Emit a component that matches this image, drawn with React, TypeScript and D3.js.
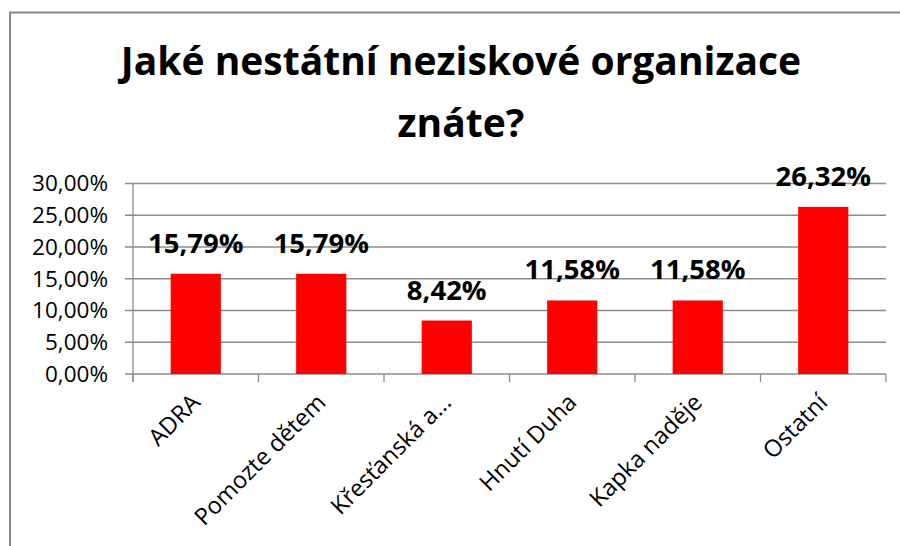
import React from "react";
import * as d3 from "d3";

const categories = ["ADRA", "Pomozte dětem", "Křesťanská a...", "Hnutí Duha", "Kapka naděje", "Ostatní"];
const values = [15.79, 15.79, 8.42, 11.58, 11.58, 26.32];
const yTicks = [0, 5, 10, 15, 20, 25, 30];
const titleLines = ["Jaké nestátní neziskové organizace", "znáte?"];

const W = 900;
const H = 546;
const left = 133;
const right = 886;
const top = 183.5;
const bottom = 374;
const font = "'Open Sans', Lato, sans-serif";
const grid = "#8c8c8c";

const fmt = (v: number) => v.toFixed(2).replace(".", ",") + "%";

export default function App() {
  const x = d3.scaleBand<string>().domain(categories).range([left, right]).paddingInner(0.6).paddingOuter(0.3);
  const xb = d3.scaleBand<string>().domain(categories).range([left, right]);
  const y = d3.scaleLinear().domain([0, 30]).range([bottom, top]);

  return (
    <svg width={W} height={H} style={{ position: "absolute", left: 0, top: 0, background: "#fff" }}>
      <rect x={10} y={12.5} width={W + 20} height={H + 20} fill="#fff" stroke="#888" strokeWidth={2} />
      {titleLines.map((t, i) => (
        <text key={i} x={461} y={75 + i * 62} textAnchor="middle" fontFamily={font} fontWeight="bold" fontSize={39} fill="#000">
          {t}
        </text>
      ))}
      {yTicks.map((t) => (
        <g key={t}>
          <line x1={left - 8} x2={right} y1={y(t)} y2={y(t)} stroke={grid} strokeWidth={1.3} />
          <text x={108} y={y(t)} dy="0.35em" textAnchor="end" fontFamily={font} fontSize={22.5} fill="#000">
            {fmt(t)}
          </text>
        </g>
      ))}
      <line x1={left} x2={left} y1={top} y2={bottom + 8} stroke={grid} strokeWidth={1.3} />
      {categories.map((c) => (
        <line key={"t" + c} x1={xb(c)!} x2={xb(c)!} y1={bottom} y2={bottom + 8} stroke={grid} strokeWidth={1.3} />
      ))}
      <line x1={right} x2={right} y1={bottom} y2={bottom + 8} stroke={grid} strokeWidth={1.3} />
      {categories.map((c, i) => (
        <rect key={"b" + c} x={x(c)!} y={y(values[i])} width={x.bandwidth()} height={bottom - y(values[i])} fill="#ff0000" />
      ))}
      {categories.map((c, i) => (
        <text
          key={"l" + c}
          x={x(c)! + x.bandwidth() / 2}
          y={y(values[i]) - 21}
          textAnchor="middle"
          fontFamily={font}
          fontWeight="bold"
          fontSize={27.5}
          fill="#000"
        >
          {fmt(values[i])}
        </text>
      ))}
      {categories.map((c) => {
        const cx = xb(c)! + xb.bandwidth() / 2;
        return (
          <text
            key={"x" + c}
            transform={`translate(${cx},${398}) rotate(-45)`}
            textAnchor="end"
            dy="0.35em"
            fontFamily={font}
            fontSize={23.5}
            fill="#000"
          >
            {c}
          </text>
        );
      })}
    </svg>
  );
}
